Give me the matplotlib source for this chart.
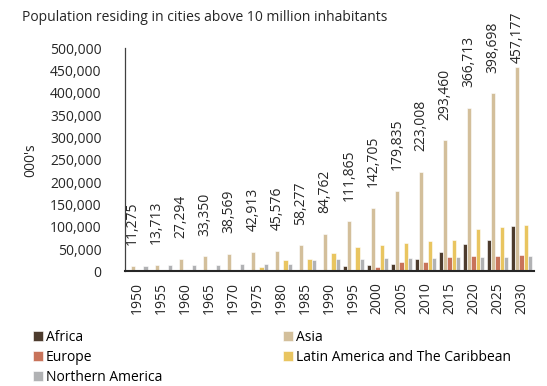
import matplotlib.pyplot as plt
import numpy as np

plt.rcParams['font.family'] = ['Open Sans', 'DejaVu Sans']

years = ["1950", "1955", "1960", "1965", "1970", "1975", "1980", "1985", "1990",
         "1995", "2000", "2005", "2010", "2015", "2020", "2025", "2030"]

africa = [0, 0, 0, 0, 0, 0, 0, 0, 0, 11900, 14200, 15700, 27600, 43300, 62100, 70300, 102400]
asia = [11275, 13713, 27294, 33350, 38569, 42913, 45576, 58277, 84762, 111865,
        142705, 179835, 223008, 293460, 366713, 398698, 457177]
europe = [0, 0, 0, 0, 0, 0, 0, 0, 0, 0, 10500, 21700, 21700, 32900, 35100, 35100, 35900]
latin_america = [0, 0, 0, 0, 0, 10690, 25400, 28400, 41500, 55300, 59500, 63500,
                 67300, 70300, 94900, 100100, 103900]
northern_america = [12338, 13219, 14164, 14500, 15700, 15880, 15650, 26100, 27200, 27800,
                    30200, 30000, 30600, 31400, 31400, 32900, 33600]

series = [
    ("Africa", africa, "#4d3c2e"),
    ("Asia", asia, "#d3bf9b"),
    ("Europe", europe, "#c8735a"),
    ("Latin America and The Caribbean", latin_america, "#e9c560"),
    ("Northern America", northern_america, "#b1b2b4"),
]

fig = plt.figure(figsize=(5.47, 3.86), dpi=100)
ax = fig.add_axes([0.2285, 0.297, 0.747, 0.578])

x = np.arange(len(years))
width = 0.18
bars = {}
for i, (name, values, color) in enumerate(series):
    bars[name] = ax.bar(x + (i - 2) * width, values, width, color=color,
                        edgecolor="white", linewidth=0.4, label=name)

# Asia value labels above the bars
for xi, v in zip(x, asia):
    offset = 15 if v < 420000 else 3
    ax.annotate(f"{v:,}", (xi - width, v), xytext=(0, offset), textcoords="offset points",
                rotation=90, ha="center", va="bottom", fontsize=10, color="#262626",
                annotation_clip=False)

ax.set_xlim(-0.5, len(years) - 0.5)
ax.set_ylim(0, 500000)
ax.set_yticks(np.arange(0, 500001, 50000))
ax.set_yticklabels([f"{t:,}" for t in range(0, 500001, 50000)], fontsize=10, color="#262626")
ax.set_xticks(x)
ax.set_xticklabels(years, rotation=90, fontsize=10, color="#262626")
ax.tick_params(axis="both", length=0)
ax.tick_params(axis="y", pad=17)
ax.tick_params(axis="x", pad=8)

for side in ["top", "right"]:
    ax.spines[side].set_visible(False)
ax.spines["left"].set_color("#404040")
ax.spines["left"].set_linewidth(0.9)
ax.spines["bottom"].set_color("#262626")
ax.spines["bottom"].set_linewidth(1.5)

ax.set_ylabel("000's", fontsize=10, color="#262626", labelpad=8)
fig.text(0.04, 0.955, "Population residing in cities above 10 million inhabitants",
         fontsize=10, color="#262626", ha="left", va="center")

order = ["Africa", "Europe", "Northern America", "Asia", "Latin America and The Caribbean"]
fig.legend([bars[n] for n in order], order, ncol=2, loc="upper left",
           bbox_to_anchor=(0.06, 0.145), frameon=False, fontsize=10,
           handlelength=0.7, handleheight=0.7, handletextpad=0.25,
           labelspacing=0.35, columnspacing=8.7, borderaxespad=0, borderpad=0)

fig.savefig("out.png", dpi=100)
